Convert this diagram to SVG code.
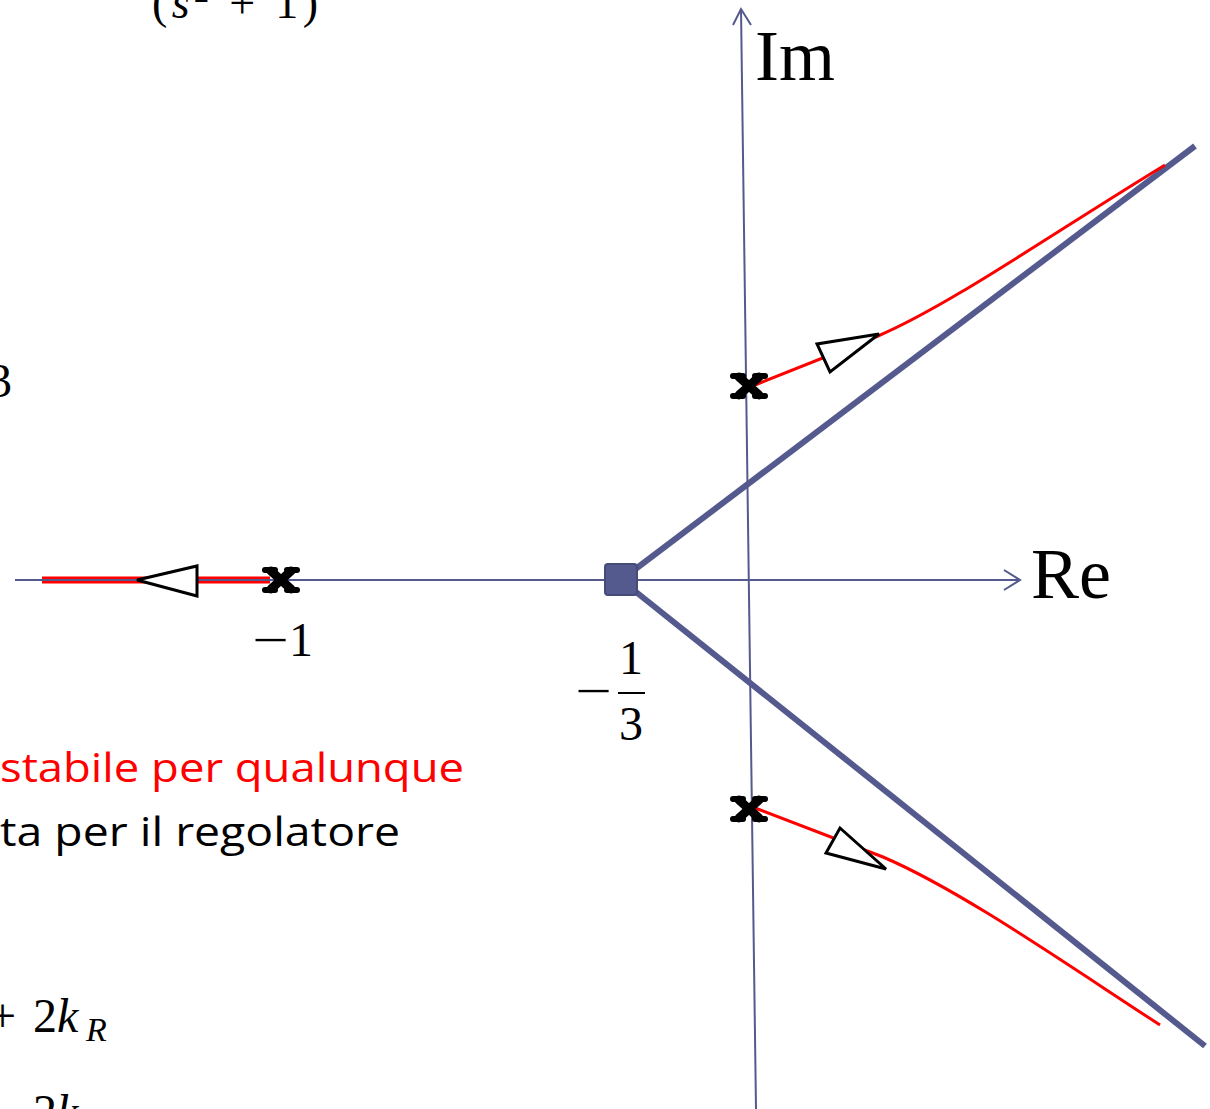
<svg xmlns="http://www.w3.org/2000/svg" width="1210" height="1109" viewBox="0 0 1210 1109">
<defs>
<style>
.axis{stroke:#555a8e;stroke-width:2;fill:none}
.asym{stroke:#555a8e;stroke-width:6;fill:none}
.locus{stroke:#ff0000;stroke-width:3;fill:none}
.tri{stroke:#000;stroke-width:3;fill:#fff;stroke-linejoin:miter}
.math{font-family:"Liberation Serif","DejaVu Serif",serif;fill:#000}
.body{font-family:"Open Sans","Liberation Sans",sans-serif;font-size:40px}
.px{stroke:#000;fill:none;stroke-linecap:round}
</style>
<g id="xmark">
<path class="px" stroke-width="9" d="M-10,-9 L10,9 M-10,9 L10,-9"/>
<path class="px" stroke-width="6" d="M-16,-10 L-6,-10 M6,-10 L16,-10 M-16,10 L-6,10 M6,10 L16,10"/>
</g>
</defs>
<rect width="1210" height="1109" fill="#fff"/>
<g id="texts">
<text class="math" x="152" y="18" font-size="46" textLength="166" lengthAdjust="spacing">(<tspan font-style="italic">s</tspan><tspan dy="-16" font-size="30">2</tspan><tspan dy="16"> + 1)</tspan></text>
<text class="math" x="-12" y="397" font-size="48">3</text>
<text class="math" y="1032" font-size="48"><tspan x="-11">+</tspan><tspan x="33">2</tspan><tspan x="57" font-style="italic">k</tspan><tspan x="86" font-style="italic" font-size="34" dy="9">R</tspan></text>
<text class="math" y="1128" font-size="48"><tspan x="-16">+</tspan><tspan x="33">2</tspan><tspan x="57" font-style="italic">k</tspan></text>
<text class="body" x="0" y="782" fill="#ff0000" textLength="464" lengthAdjust="spacingAndGlyphs">stabile per qualunque</text>
<text class="body" x="0" y="846" fill="#000" textLength="400" lengthAdjust="spacingAndGlyphs">ta per il regolatore</text>
</g>
<g id="connectors">
<line x1="42" y1="580" x2="270" y2="580" stroke="#ff0000" stroke-width="7"/>
<line class="axis" x1="15" y1="580" x2="1020" y2="580"/>
<polyline class="axis" points="1004,570 1020,580 1004,590"/>
<line class="axis" x1="741" y1="9" x2="756" y2="1109"/>
<polyline class="axis" points="733,25 741,9 751,25"/>
<line class="asym" x1="621" y1="580" x2="1195" y2="146"/>
<line class="asym" x1="621" y1="580" x2="1205" y2="1046"/>
<path class="locus" d="M755,385 L878,336 C950,305 1050,235 1165,165"/>
<path class="locus" d="M755,808 L883,857 C960,890 1060,960 1160,1025"/>
<polygon class="tri" points="137,580 197,566 197,596"/>
<polygon class="tri" points="879,334 817,344 830,372"/>
<polygon class="tri" points="886,869 840,828 826,853"/>
</g>
<g id="zero-square">
<rect x="605" y="564" width="32" height="31" rx="3" fill="#555a8e" stroke="#464b7a" stroke-width="2"/>
</g>
<g id="pole-minus1"><use href="#xmark" x="281" y="580"/></g>
<g id="pole-upper"><use href="#xmark" x="749" y="386"/></g>
<g id="pole-lower"><use href="#xmark" x="749" y="809"/></g>
<g id="labels">
<text class="math" font-size="48" transform="translate(252,656) scale(1.35,1)">−</text>
<text class="math" x="289" y="656" font-size="48">1</text>
<text class="math" font-size="48" transform="translate(575,707) scale(1.35,1)">−</text>
<text class="math" x="631" y="674" font-size="48" text-anchor="middle">1</text>
<line x1="618" y1="693" x2="645" y2="693" stroke="#000" stroke-width="2"/>
<text class="math" x="631" y="740" font-size="48" text-anchor="middle">3</text>
<text class="math" x="755" y="80" font-size="72">Im</text>
<text class="math" x="1031" y="598" font-size="72">Re</text>
</g>
</svg>
